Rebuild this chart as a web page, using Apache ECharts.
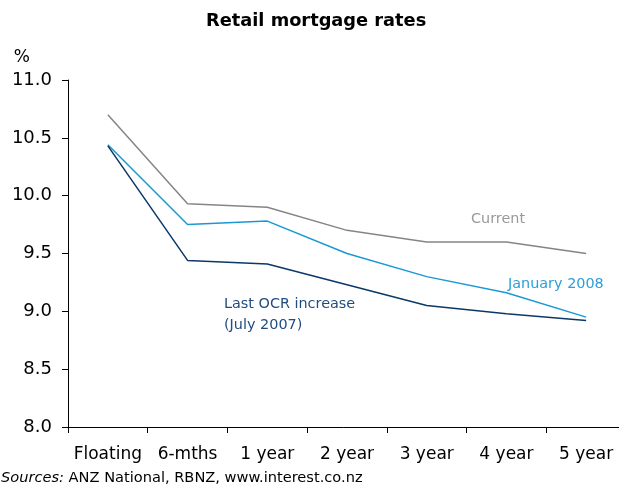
<!DOCTYPE html>
<html>
<head>
<meta charset="utf-8">
<script src="https://cdn.jsdelivr.net/npm/echarts@6/dist/echarts.min.js"></script>
<style>
html, body { margin: 0; padding: 0; background: #fff; }
#main { width: 619px; height: 487px; }
</style>
</head>
<body>
<div id="main"></div>
<script>
// categories and series
var terms = ['Floating', '6-mths', '1 year', '2 year', '3 year', '4 year', '5 year'];
var current = [10.70, 9.93, 9.90, 9.70, 9.60, 9.60, 9.50];
var jan2008 = [10.44, 9.75, 9.78, 9.50, 9.30, 9.16, 8.95];
var lastOcr = [10.43, 9.44, 9.41, 9.23, 9.05, 8.98, 8.92];

var font = 'DejaVu Sans, Verdana, sans-serif';

var myChart = echarts.init(document.getElementById('main'));

var option = {
    animation: false,
    backgroundColor: '#fff',
    title: [{
        text: 'Retail mortgage rates',
        left: 206,
        top: 12,
        padding: 0,
        textStyle: { fontFamily: font, fontSize: 17.8, fontWeight: 'bold', color: '#000' }
    }, {
        text: '{i|Sources:} ANZ National, RBNZ, www.interest.co.nz',
        left: 1,
        top: 471,
        padding: 0,
        textStyle: {
            fontFamily: font, fontSize: 14.6, fontWeight: 'normal', color: '#000',
            rich: { i: { fontFamily: font, fontSize: 14.6, fontStyle: 'italic', color: '#000' } }
        }
    }],
    grid: { left: 68, width: 558, top: 80, bottom: 60, outerBoundsMode: 'none', containLabel: false },
    xAxis: {
        type: 'category',
        data: terms,
        boundaryGap: true,
        axisLine: { lineStyle: { color: '#000', width: 1 } },
        axisTick: { show: true, length: 6, lineStyle: { color: '#000' } },
        axisLabel: { fontFamily: font, fontSize: 17, color: '#000', margin: 19, interval: 0 }
    },
    yAxis: {
        type: 'value',
        min: 8.0,
        max: 11.0,
        interval: 0.5,
        name: '%',
        nameLocation: 'end',
        nameGap: 14,
        nameTextStyle: { fontFamily: font, fontSize: 17, color: '#000', align: 'right', padding: [0, 38, 0, 0] },
        splitLine: { show: false },
        axisLine: { show: true, lineStyle: { color: '#000', width: 1 } },
        axisTick: { show: true, length: 6, lineStyle: { color: '#000' } },
        axisLabel: {
            fontFamily: font, fontSize: 18, color: '#000', margin: 16,
            formatter: function (v) { return v.toFixed(1); }
        }
    },
    graphic: [
        { type: 'text', left: 471, top: 212, style: { text: 'Current', fill: '#999999', font: '14.4px ' + font } },
        { type: 'text', left: 508, top: 277, style: { text: 'January 2008', fill: '#2a9fd8', font: '14.4px ' + font } },
        { type: 'text', left: 224, top: 294, style: { text: 'Last OCR increase\n(July 2007)', fill: '#1f4d80', font: '14.4px ' + font, lineHeight: 21 } }
    ],
    series: [{
        name: 'Current',
        type: 'line',
        data: current,
        symbol: 'none',
        lineStyle: { color: '#858585', width: 1.5 }
    }, {
        name: 'January 2008',
        type: 'line',
        data: jan2008,
        symbol: 'none',
        lineStyle: { color: '#1a98d5', width: 1.5 }
    }, {
        name: 'Last OCR increase (July 2007)',
        type: 'line',
        data: lastOcr,
        symbol: 'none',
        lineStyle: { color: '#0b3868', width: 1.5 }
    }]
};

myChart.setOption(option);
</script>
</body>
</html>
